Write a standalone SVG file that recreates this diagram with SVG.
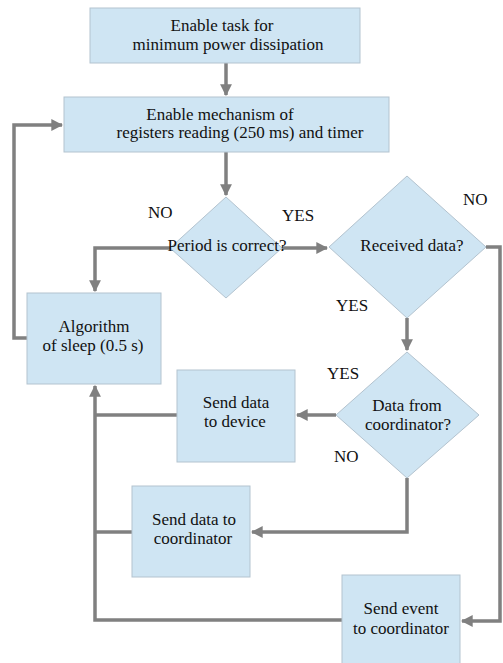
<svg xmlns="http://www.w3.org/2000/svg" width="503" height="663" viewBox="0 0 503 663">
<style>
.n{fill:#cfe5f3;stroke:#b3c3cf;stroke-width:1}
text{font-family:"Liberation Serif","Times New Roman",serif;font-size:17px;fill:#111}
.t{text-anchor:middle}
.c{fill:none;stroke:#808080;stroke-width:3.5}
</style>
<defs>
<marker id="a" viewBox="0 0 10 10" refX="9" refY="5" markerWidth="3.4" markerHeight="3.4" orient="auto" markerUnits="strokeWidth">
<path d="M0,0 L10,5 L0,10 Z" fill="#808080"/>
</marker>
</defs>
<rect width="503" height="663" fill="#fff"/>
<g id="connectors">
<path class="c" d="M226,63 V95" marker-end="url(#a)"/>
<path class="c" d="M226,152 V195" marker-end="url(#a)"/>
<path class="c" d="M170,248 H95 V291" marker-end="url(#a)"/>
<path class="c" d="M282,248 H327" marker-end="url(#a)"/>
<path class="c" d="M486,247 H500 V621 H462" marker-end="url(#a)"/>
<path class="c" d="M407,318 V350" marker-end="url(#a)"/>
<path class="c" d="M336,415 H297" marker-end="url(#a)"/>
<path class="c" d="M407,478 V532 H252" marker-end="url(#a)"/>
<path class="c" d="M27,338 H14 V125 H62" marker-end="url(#a)"/>
<path class="c" d="M342,620 H95 V386" marker-end="url(#a)"/>
<path class="c" d="M177,415 H95"/>
<path class="c" d="M132,532 H95"/>
</g>
<g id="n1"><rect class="n" x="90" y="8" width="270" height="55"/>
<text class="t" x="222" y="31">Enable task for</text>
<text class="t" x="228" y="50">minimum power dissipation</text></g>
<g id="n2"><rect class="n" x="64" y="97" width="325" height="55"/>
<text class="t" x="220" y="120">Enable mechanism of</text>
<text class="t" x="240" y="138">registers reading (250 ms) and timer</text></g>
<g id="d1"><polygon class="n" points="226,197 282,248 226,298 170,248"/>
<text class="t" x="227" y="251">Period is correct?</text></g>
<g id="d2"><polygon class="n" points="407,176 486,247 407,318 329,247"/>
<text class="t" x="412" y="251">Received data?</text></g>
<g id="n3"><rect class="n" x="27" y="293" width="134" height="91"/>
<text class="t" x="94" y="332">Algorithm</text>
<text class="t" x="93" y="351">of sleep (0.5 s)</text></g>
<g id="d3"><polygon class="n" points="407,352 479,415 407,478 336,415"/>
<text class="t" x="407" y="411">Data from</text>
<text class="t" x="408" y="430">coordinator?</text></g>
<g id="n4"><rect class="n" x="177" y="370" width="118" height="92"/>
<text class="t" x="236" y="408">Send data</text>
<text class="t" x="235" y="427">to device</text></g>
<g id="n5"><rect class="n" x="132" y="486" width="118" height="91"/>
<text class="t" x="194" y="525">Send data to</text>
<text class="t" x="193" y="544">coordinator</text></g>
<g id="n6"><rect class="n" x="342" y="575" width="118" height="95"/>
<text class="t" x="401" y="614">Send event</text>
<text class="t" x="401" y="634">to coordinator</text></g>
<g id="labels">
<text x="148" y="218">NO</text>
<text x="282" y="221">YES</text>
<text x="463" y="205">NO</text>
<text x="336" y="311">YES</text>
<text x="327" y="379">YES</text>
<text x="334" y="462">NO</text>
</g>
</svg>
